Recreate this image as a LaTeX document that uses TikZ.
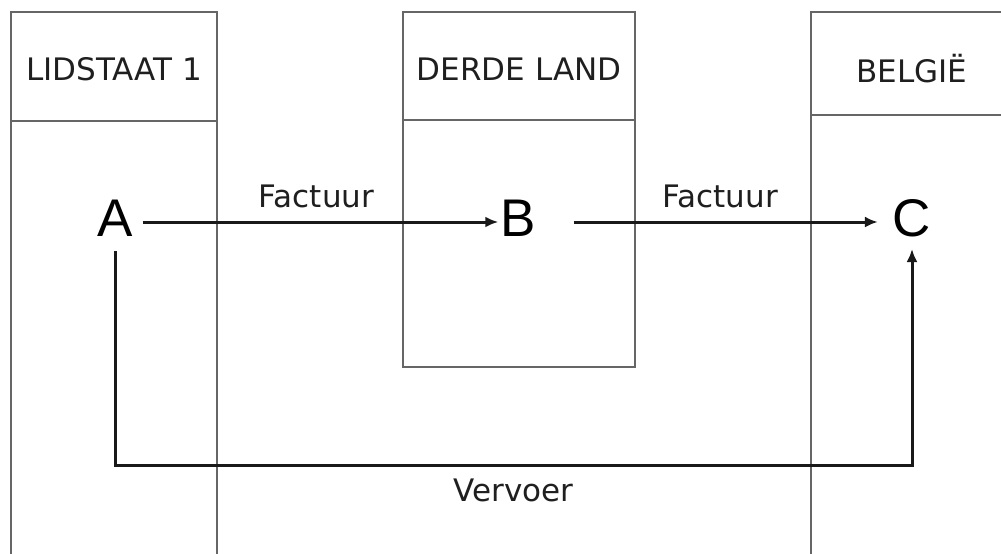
\documentclass[tikz,border=0pt]{standalone}
\usepackage{fontspec}
\setmainfont{DejaVu Sans}
\newfontfamily\letterfont{Liberation Sans}
\usetikzlibrary{arrows.meta,positioning}

\begin{document}
\begin{tikzpicture}[
    x=1pt, y=-1pt,
    frame/.style={draw=black!60, line width=1.5pt},
    head/.style={font=\fontsize{31}{36}\selectfont, text=black!88},
    party/.style={font=\letterfont\fontsize{53}{60}\selectfont, inner sep=0pt, outer sep=0pt, minimum height=38pt},
    flow/.style={draw=black!90, line width=3pt, -{Latex[length=13pt,width=11pt]}},
    label/.style={font=\fontsize{31}{36}\selectfont, text=black!88}
]
\useasboundingbox (0,0) rectangle (1001,554);

% Country columns
\draw[frame] (11,554) -- (11,12) -- (217,12) -- (217,554);
\draw[frame] (11,121) -- (217,121);
\draw[frame] (403,12) rectangle (635,367);
\draw[frame] (403,120) -- (635,120);
\draw[frame] (1001,12) -- (811,12) -- (811,554);
\draw[frame] (811,115) -- (1001,115);

\node[head] (lid) at (114,69) {LIDSTAAT 1};
\node[head] (derde) at (519,69) {DERDE LAND};
\node[head] (bel) at (912,69) {BELGIË};

% Parties
\node[party] (A) at (115,218) {A};
\node[party] (B) at (518,218) {B};
\node[party] (C) at (912,218) {C};

% Invoices
\draw[flow, shorten <=10pt, shorten >=2pt] (A.east |- 0,222) -- node[label, above=9pt] {Factuur} (B.west |- 0,222);
\draw[flow, shorten <=38pt, shorten >=15pt] (B.east |- 0,222) -- node[label, above=9pt, xshift=6pt] {Factuur} (C.west |- 0,222);

% Transport
\coordinate (low) at (0,465);
\draw[flow, shorten <=14pt, shorten >=12pt] (A.south) -- (A.south |- low) -| node[label, pos=0.25, below=9pt] {Vervoer} (C.south);

\end{tikzpicture}
\end{document}
